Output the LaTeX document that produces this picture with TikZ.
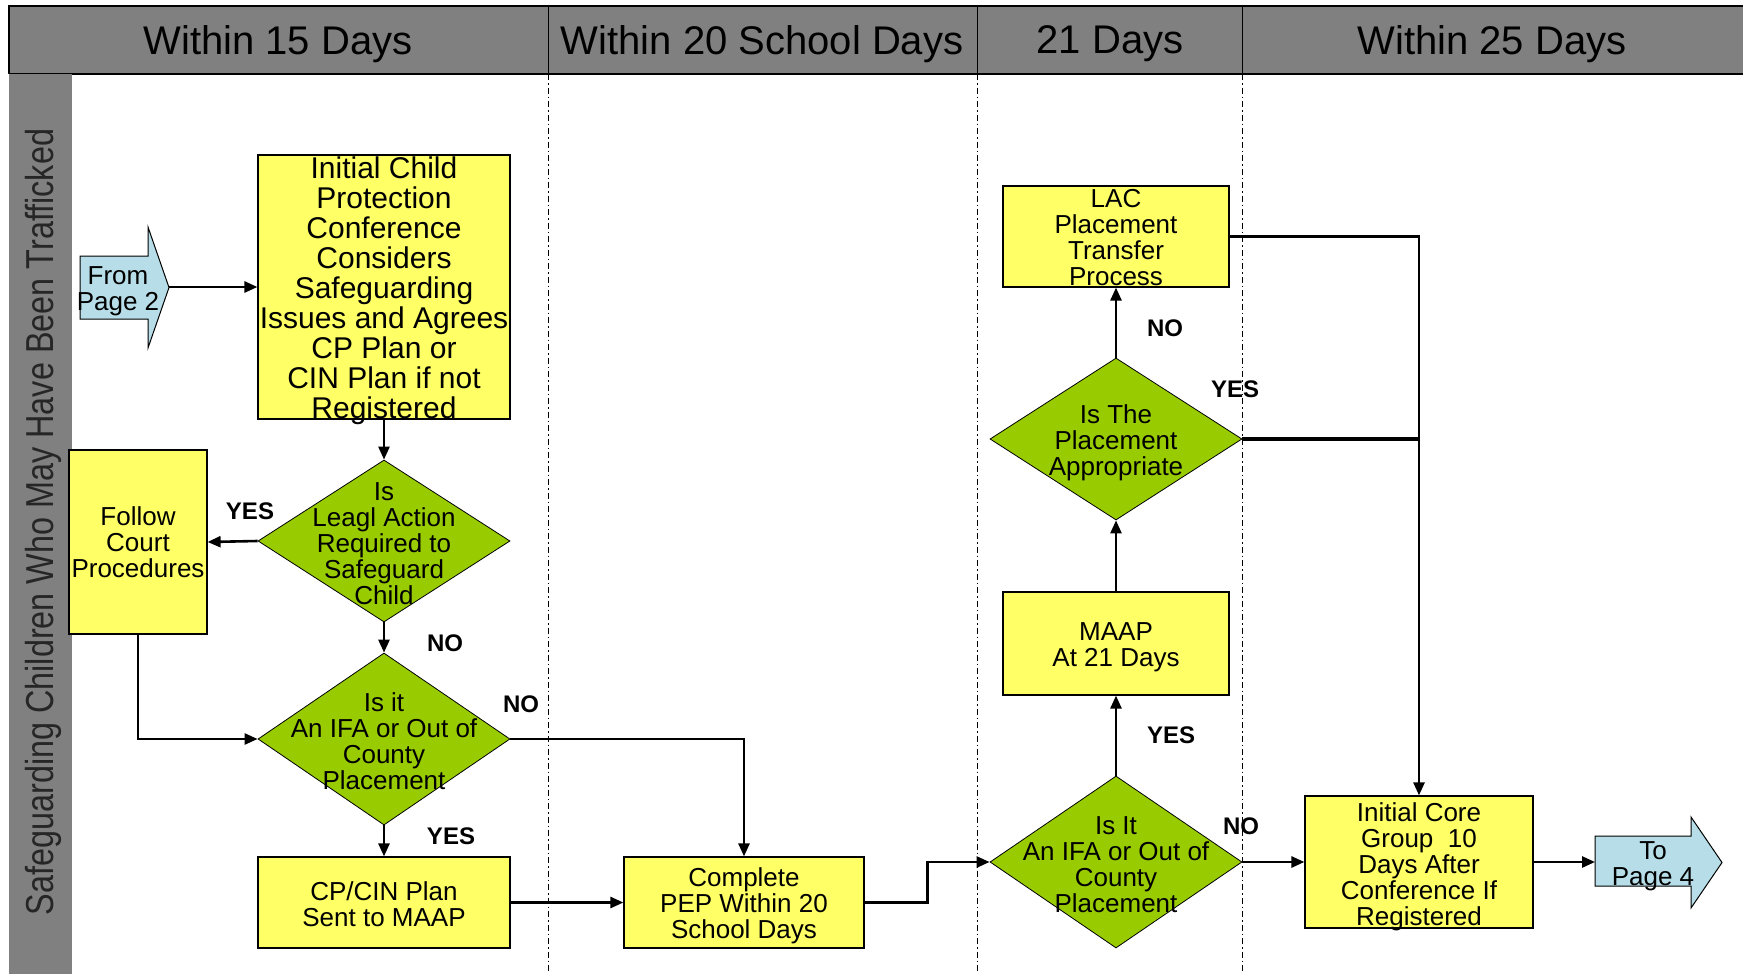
\documentclass[tikz,border=0pt]{standalone}
\usepackage{fontspec}
\setmainfont{Liberation Sans}
\usetikzlibrary{arrows.meta,shapes.geometric}
\definecolor{boxyellow}{RGB}{255,255,102}
\definecolor{diagreen}{RGB}{153,204,0}
\definecolor{hdrgray}{RGB}{128,128,128}
\definecolor{pageblue}{RGB}{183,222,232}
\begin{document}
\begin{tikzpicture}[x=1pt,y=-1pt,
 box/.style={draw, fill=boxyellow, line width=1.2pt, inner sep=0pt},
 dia/.style={draw, fill=diagreen, diamond, line width=0.8pt, inner sep=0pt, minimum width=252pt},
 dtext/.style={align=center, font=\fontsize{26}{26}\selectfont, inner sep=0pt},
 lbl/.style={font=\fontsize{24}{24}\selectfont\bfseries, inner sep=0pt},
 conn/.style={line width=2.6pt, -{Triangle[length=13pt,width=11pt]}},
 plainline/.style={line width=4pt},
 divider/.style={line width=0.9pt, dash pattern=on 6pt off 3pt on 1.5pt off 3pt},
 hdr/.style={font=\fontsize{40}{40}\selectfont, inner sep=0pt},
 pagearrow/.style={fill=pageblue, draw, line width=1pt}
]
\useasboundingbox (0,0) rectangle (1743,974);
\fill[white] (0,0) rectangle (1743,974);
% header
\fill[hdrgray] (9,6) rectangle (1743,74);
\draw[line width=1.2pt] (9,74) -- (9,6) -- (1743,6);
\draw[line width=1.2pt] (9,74) -- (1743,74);
\foreach \xx in {548,977,1242} \draw[line width=1pt] (\xx,6) -- (\xx,74);
\node[hdr] (h1) at (278,44) {Within 15 Days};
\node[hdr] (h2) at (762,44) {Within 20 School Days};
\node[hdr] (h3) at (1110,44) {21 Days};
\node[hdr] (h4) at (1492,44) {Within 25 Days};
% left band
\fill[hdrgray] (9,74) rectangle (72,974);
\node[rotate=90, inner sep=0pt, font=\fontsize{39}{39}\selectfont, text=black!85] (side) at (43,522)
  {\scalebox{0.83}[1]{Safeguarding Children Who May Have Been Trafficked}};
% dashed dividers
\foreach \xx in {548,977,1242} \draw[divider] (\xx,74) -- (\xx,974);
% page arrows
\filldraw[pagearrow] (80,256) -- (148,256) -- (148,227) -- (169,287.5) -- (148,348) -- (148,319) -- (80,319) -- cycle;
\coordinate (fromtip) at (169,287);
\node[dtext] (fromtxt) at (118,291) {From\\Page 2};
\filldraw[pagearrow] (1595,836) -- (1691,836) -- (1691,817) -- (1722,862.5) -- (1691,908) -- (1691,886) -- (1595,886) -- cycle;
\coordinate (totail) at (1595,862);
\node[dtext] (totxt) at (1653,866) {To\\Page 4};
% boxes
\node[box, minimum width=252pt, minimum height=264pt] (ic) at (384,287) {};
\node[dtext, font=\fontsize{30}{30}\selectfont] (ict) at ([yshift=-4pt]ic.center)
  {Initial Child\\ Protection\\Conference\\Considers\\ Safeguarding\\Issues and Agrees\\CP Plan or\\ CIN Plan if not\\Registered};
\node[box, minimum width=138pt, minimum height=184pt] (fc) at (138,542) {};
\node[dtext] (fct) at (fc.center) {Follow\\Court\\Procedures};
\node[box, minimum width=252pt, minimum height=91pt] (cp) at (384,902.5) {};
\node[dtext] (cpt) at ([yshift=-2pt]cp.center) {CP/CIN Plan\\Sent to MAAP};
\node[box, minimum width=240pt, minimum height=91pt] (pep) at (744,902.5) {};
\node[dtext] (pept) at ([yshift=-3pt]pep.center) {Complete\\PEP Within 20\\School Days};
\node[box, minimum width=226pt, minimum height=103pt] (maap) at (1116,643.5) {};
\node[dtext] (maapt) at ([yshift=-4pt]maap.center) {MAAP\\At 21 Days};
\node[box, minimum width=226pt, minimum height=101pt] (lac) at (1116,236.5) {};
\node[dtext] (lact) at ([yshift=-1pt]lac.center) {LAC\\Placement\\Transfer\\Process};
\node[box, minimum width=228pt, minimum height=132pt] (core) at (1419,862) {};
\node[dtext] (coret) at ([yshift=-5pt]core.center) {Initial Core\\Group\ \ 10\\Days After\\Conference If\\Registered};
% diamonds
\node[dia, minimum height=162pt] (d1) at (384,541) {};
\node[dtext] (d1t) at ([yshift=-3pt]d1.center) {Is\\Leagl Action\\Required to\\Safeguard\\Child};
\node[dia, minimum height=172pt] (d2) at (384,739) {};
\node[dtext] (d2t) at ([yshift=-2pt]d2.center) {Is it\\An IFA or Out of\\County\\Placement};
\node[dia, minimum height=172pt] (d3) at (1116,862) {};
\node[dtext] (d3t) at ([yshift=-3pt]d3.center) {Is It\\An IFA or Out of\\County\\Placement};
\node[dia, minimum height=162pt] (d4) at (1116,439) {};
\node[dtext] (d4t) at ([yshift=-4pt]d4.center) {Is The\\Placement\\Appropriate};
% connectors
\draw[conn] (fromtip) -- (ic.west);
\draw[conn] (ic.south) -- (d1.north);
\draw[conn] (d1.west) -- (fc.east);
\draw[conn] (d1.south) -- (d2.north);
\draw[conn] (fc.south) |- (d2.west);
\draw[conn] (d2.south) -- (cp.north);
\draw[conn] (d2.east) -| (pep.north);
\draw[conn] (cp.east) -- (pep.west);
\draw[conn] (pep.east) -- ++(63,0) |- (d3.west);
\draw[conn] (d3.north) -- (maap.south);
\draw[conn] (maap.north) -- (d4.south);
\draw[conn] (d4.north) -- (lac.south);
\draw[conn] (lac.east) -| (core.north);
\draw[plainline] (d4.east) -- (d4.east -| core.north);
\draw[conn] (d3.east) -- (core.west);
\draw[conn] (core.east) -- (totail);
% labels
\node[lbl] (l1) at (250,511) {YES};
\node[lbl] (l2) at (445,643) {NO};
\node[lbl] (l3) at (521,704) {NO};
\node[lbl] (l4) at (451,836) {YES};
\node[lbl] (l5) at (1165,328) {NO};
\node[lbl] (l6) at (1235,389) {YES};
\node[lbl] (l7) at (1171,735) {YES};
\node[lbl] (l8) at (1241,826) {NO};
\end{tikzpicture}
\end{document}
